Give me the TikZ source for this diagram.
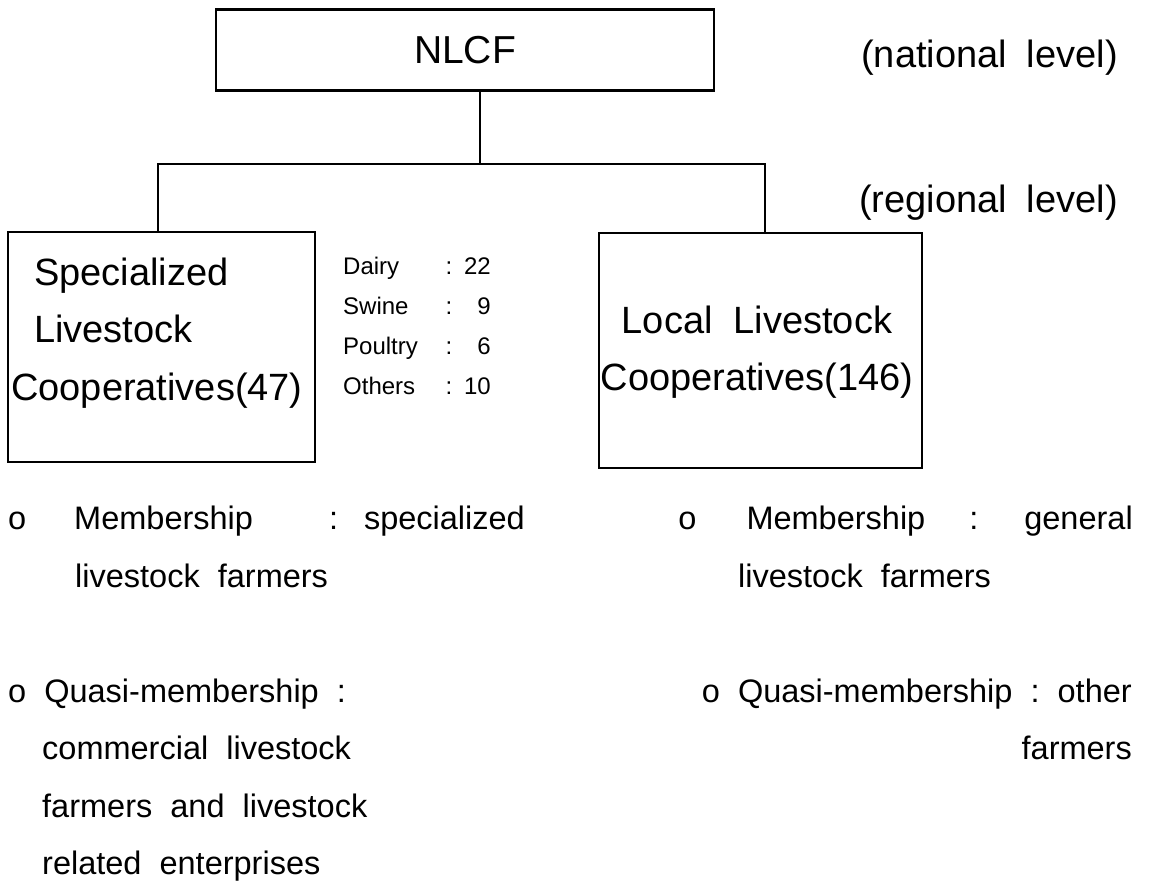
\documentclass[tikz,border=0pt]{standalone}
\usepackage{fontspec}
\setmainfont{Liberation Sans}
\begin{document}
\begin{tikzpicture}[x=1pt,y=-1pt,
  box/.style={draw, line width=2.4pt, inner sep=0pt},
  conn/.style={line width=2.4pt},
  big/.style={font=\fontsize{38}{44}\selectfont, inner sep=0pt},
  note/.style={font=\fontsize{32.5}{38}\selectfont, inner sep=0pt},
  small/.style={font=\fontsize{24}{28}\selectfont, inner sep=0pt}]
\useasboundingbox (0,0) rectangle (1151,890);

% boxes
\node[box, minimum width=498pt, minimum height=81pt] (nlcf) at (465,50) {};
\node[font=\fontsize{39}{44}\selectfont, inner sep=0pt] (nlcft) at (nlcf.center) {NLCF};
\node[box, minimum width=307pt, minimum height=230pt] (spec) at (161.5,347) {};
\node[box, minimum width=323pt, minimum height=235pt] (local) at (760.5,350.5) {};

% connectors
\coordinate (jc) at (480,164);
\coordinate (jl) at (158,164);
\coordinate (jr) at (765,164);
\draw[conn] (jc |- nlcf.south) -- (jc);
\draw[conn] (jl |- spec.north) -- (jl) -- (jr) -- (jr |- local.north);

% level labels
\node[big, anchor=base east] (nat) at (1118,68) {(national\hspace{20pt}level)};
\node[big, anchor=base east] (reg) at (1118,213) {(regional\hspace{20pt}level)};

% left box text
\node[big, anchor=base west] (s1) at (34,286) {Specialized};
\node[big, anchor=base west] (s2) at (34,343) {Livestock};
\node[big, anchor=base west] (s3) at (11,400) {Cooperatives(47)};

% counts
\foreach \n/\lab/\num/\y in {1/Dairy/22/275, 2/Swine/9/315, 3/Poultry/6/355, 4/Others/10/395}{
  \node[small, anchor=base west] (c\n l) at (343,\y) {\lab};
  \node[small, anchor=base] (c\n c) at (449,\y) {:};
  \node[small, anchor=base east] (c\n n) at (491,\y) {\num};
}

% right box text
\node[big, anchor=base] (l1) at (757,334) {Local\ \ Livestock};
\node[big, anchor=base] (l2) at (757,391) {Cooperatives(146)};

% left notes
\node[note, anchor=base west] (m1) at (8,529) {o\hspace{48pt}Membership\hspace{76pt}:\hspace{26pt}specialized};
\node[note, anchor=base west] (m2) at (75,587) {livestock\ \ farmers};
\node[note, anchor=base west] (q1) at (8,702) {o\ \ Quasi-membership\ \ :};
\node[note, anchor=base west] (q2) at (42,759) {commercial\ \ livestock};
\node[note, anchor=base west] (q3) at (42,817) {farmers\ \ and\ \ livestock};
\node[note, anchor=base west] (q4) at (42,874) {related\ \ enterprises};

% right notes
\node[note, anchor=base east] (r1) at (1133,529) {o\hspace{50pt}Membership\hspace{44pt}:\hspace{46pt}general};
\node[note, anchor=base west] (r2) at (738,587) {livestock\ \ farmers};
\node[note, anchor=base east] (r3) at (1132,702) {o\ \ Quasi-membership\ \ :\ \ other};
\node[note, anchor=base east] (r4) at (1132,759) {farmers};
\end{tikzpicture}
\end{document}
